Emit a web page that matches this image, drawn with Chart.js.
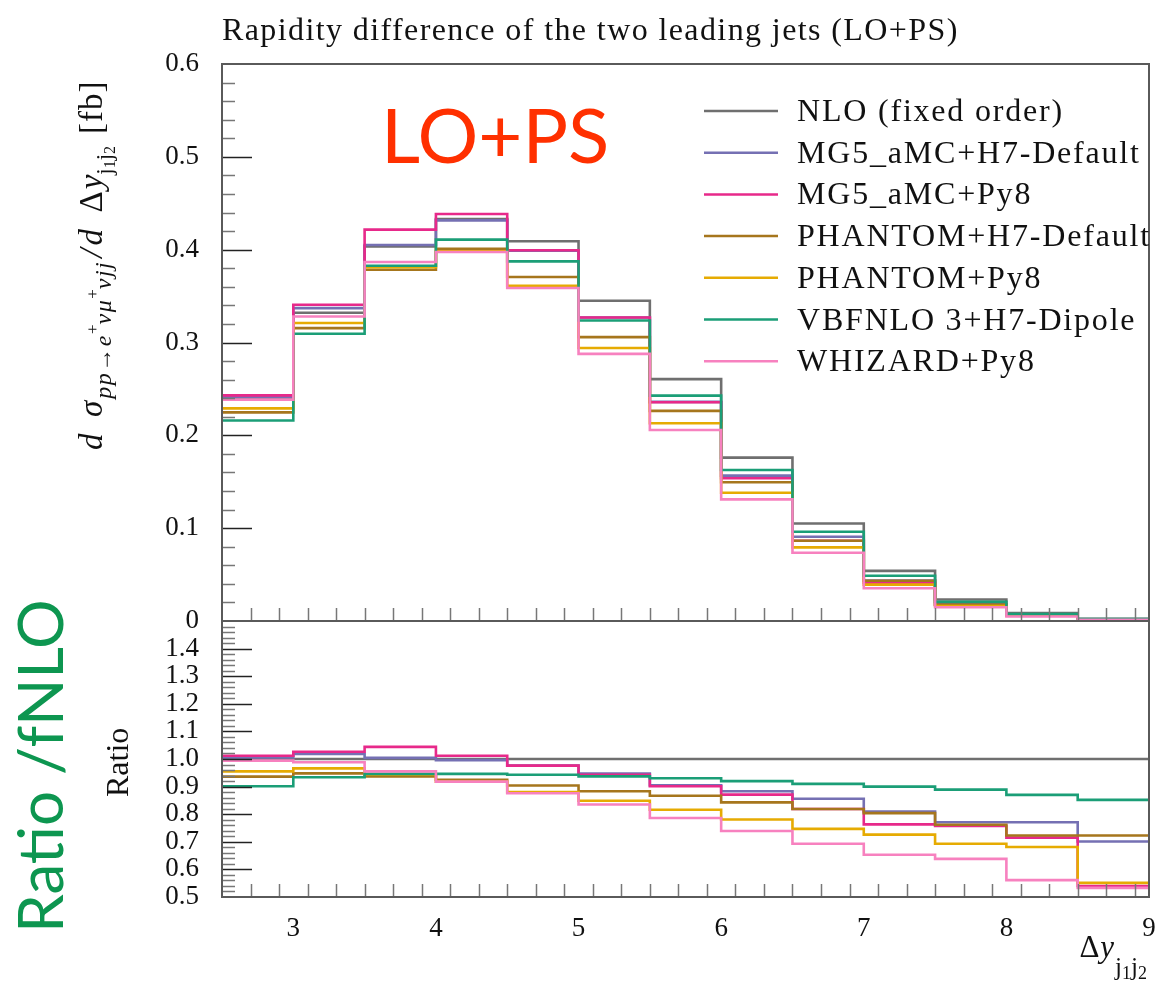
<!DOCTYPE html>
<html>
<head>
<meta charset="utf-8">
<title>Rapidity difference of the two leading jets (LO+PS)</title>
<script src="https://cdn.jsdelivr.net/npm/chart.js@4.4.1/dist/chart.umd.min.js"></script>
<style>
  html, body { margin: 0; padding: 0; background: #fff; }
  #wrap { position: relative; width: 1160px; height: 993px; }
  canvas { position: absolute; left: 0; top: 0; }
</style>
</head>
<body>
<div id="wrap">
  <canvas id="mainChart" width="1160" height="993"></canvas>
  <canvas id="ratioChart" width="1160" height="993"></canvas>
</div>
<script>
// bin edges of delta y(j1,j2)
const binEdges = [2.5, 3, 3.5, 4, 4.5, 5, 5.5, 6, 6.5, 7, 7.5, 8, 8.5, 9];

const seriesNames = [
    'NLO (fixed order)',
    'MG5_aMC+H7-Default',
    'MG5_aMC+Py8',
    'PHANTOM+H7-Default',
    'PHANTOM+Py8',
    'VBFNLO 3+H7-Dipole',
    'WHIZARD+Py8'
];
const seriesColors = ['#6f6f6f', '#7570b3', '#e7298a', '#a6761d', '#e6ab02', '#1b9e77', '#f781bf'];

// d sigma / d dy  [fb], one value per bin
const nloFixedOrder = [0.240, 0.332, 0.4035, 0.433, 0.409, 0.345, 0.2605, 0.176, 0.105, 0.054, 0.0232, 0.0085, 0.0025];
const mg5Herwig     = [0.2415, 0.337, 0.405, 0.4316, 0.399, 0.327, 0.236, 0.1566, 0.0907, 0.0437, 0.0179, 0.0066, 0.0018];
const mg5Pythia     = [0.243, 0.3406, 0.4216, 0.4385, 0.3993, 0.327, 0.2357, 0.1537, 0.0864, 0.0412, 0.0176, 0.0061, 0.0014];
const phantomHerwig = [0.2247, 0.3155, 0.3784, 0.401, 0.3705, 0.3058, 0.2263, 0.1494, 0.0864, 0.0434, 0.0177, 0.0061, 0.0018];
const phantomPythia = [0.229, 0.321, 0.381, 0.3982, 0.3612, 0.294, 0.213, 0.1382, 0.0793, 0.0392, 0.0161, 0.0058, 0.0014];
const vbfnloHerwig  = [0.216, 0.3094, 0.3827, 0.4108, 0.3874, 0.3237, 0.2428, 0.1627, 0.0961, 0.0487, 0.0206, 0.0074, 0.0021];
const whizardPythia = [0.2385, 0.328, 0.3867, 0.3975, 0.3587, 0.2878, 0.2058, 0.131, 0.0735, 0.0353, 0.0148, 0.0048, 0.0013];

// ratio to fixed-order NLO
const ratioNlo           = [1, 1, 1, 1, 1, 1, 1, 1, 1, 1, 1, 1, 1];
const ratioMg5Herwig     = [1.006, 1.018, 1.004, 0.996, 0.976, 0.947, 0.905, 0.883, 0.856, 0.81, 0.771, 0.771, 0.701];
const ratioMg5Pythia     = [1.012, 1.026, 1.044, 1.012, 0.976, 0.943, 0.901, 0.871, 0.819, 0.763, 0.757, 0.715, 0.54];
const ratioPhantomHerwig = [0.936, 0.948, 0.937, 0.925, 0.904, 0.883, 0.867, 0.843, 0.819, 0.804, 0.762, 0.723, 0.723];
const ratioPhantomPythia = [0.955, 0.966, 0.944, 0.918, 0.88, 0.849, 0.816, 0.781, 0.747, 0.726, 0.693, 0.681, 0.551];
const ratioVbfnloHerwig  = [0.901, 0.934, 0.946, 0.946, 0.943, 0.937, 0.93, 0.92, 0.91, 0.9, 0.889, 0.87, 0.852];
const ratioWhizardPythia = [0.994, 0.988, 0.955, 0.918, 0.876, 0.835, 0.786, 0.739, 0.693, 0.653, 0.638, 0.561, 0.533];

const xTickValues = [3, 4, 5, 6, 7, 8, 9];
const mainTickValues = [0, 0.1, 0.2, 0.3, 0.4, 0.5, 0.6];
const ratioTickValues = [0.5, 0.6, 0.7, 0.8, 0.9, 1.0, 1.1, 1.2, 1.3, 1.4];

const mainSeries = [nloFixedOrder, mg5Herwig, mg5Pythia, phantomHerwig, phantomPythia, vbfnloHerwig, whizardPythia];
const ratioSeries = [ratioNlo, ratioMg5Herwig, ratioMg5Pythia, ratioPhantomHerwig, ratioPhantomPythia, ratioVbfnloHerwig, ratioWhizardPythia];

const SERIF = '"Liberation Serif", "DejaVu Serif", serif';
const SANS = 'Lato, "Open Sans", sans-serif';

// points at the left bin edges plus the closing right edge
function histPoints(vals) {
    const pts = vals.map((v, i) => ({ x: binEdges[i], y: v }));
    pts.push({ x: binEdges[vals.length], y: vals[vals.length - 1] });
    return pts;
}

function makeDatasets(series) {
    return series.map((vals, i) => ({
        label: seriesNames[i],
        data: histPoints(vals),
        borderColor: seriesColors[i],
        borderWidth: 2.6,
        stepped: 'before',
        pointRadius: 0,
        fill: false,
        order: series.length - 1 - i
    }));
}

// draw a row of text pieces (font, offset) one after another
function drawRuns(ctx, runs, x, y) {
    let cx = x;
    runs.forEach(r => {
        ctx.font = r.font;
        ctx.letterSpacing = r.ls || '0px';
        ctx.fillText(r.t, cx, y + (r.dy || 0));
        cx += ctx.measureText(r.t).width + (r.gap || 0);
    });
    ctx.letterSpacing = '0px';
    return cx - x;
}

function fixedTicks(vals) {
    return scale => { scale.ticks = vals.map(v => ({ value: v })); };
}

// frame plus inward major/minor tick marks
const frameTicks = {
    id: 'frameTicks',
    afterDatasetsDraw(chart, args, o) {
        const { ctx, chartArea: a, scales: { x, y } } = chart;
        ctx.save();
        ctx.lineWidth = 1.5;
        const vert = (val, len, col) => {
            const px = Math.round(x.getPixelForValue(val)) + 0.5;
            ctx.strokeStyle = col;
            ctx.beginPath(); ctx.moveTo(px, a.bottom); ctx.lineTo(px, a.bottom - len); ctx.stroke();
        };
        const horiz = (val, len, col) => {
            const py = Math.round(y.getPixelForValue(val)) + 0.5;
            ctx.strokeStyle = col;
            ctx.beginPath(); ctx.moveTo(a.left, py); ctx.lineTo(a.left + len, py); ctx.stroke();
        };
        let n = Math.round((x.max - x.min) / 0.2);
        for (let k = 1; k < n; k++) {
            const v = x.min + k * 0.2;
            if (Math.abs(v - Math.round(v)) < 1e-6) vert(v, 28, '#333');
            else vert(v, 13, '#777');
        }
        n = Math.round((y.max - y.min) / o.yMinor);
        for (let k = 1; k < n; k++) {
            const v = y.min + k * o.yMinor;
            const r = v / o.yMajor;
            if (Math.abs(r - Math.round(r)) < 1e-6) horiz(v, 30, '#222');
            else horiz(v, 13, '#777');
        }
        ctx.strokeStyle = '#5a5a5a';
        ctx.lineWidth = 2;
        ctx.strokeRect(a.left, a.top, a.right - a.left, a.bottom - a.top);
        ctx.restore();
    }
};

// title, legend, labels of the upper panel
const mainText = {
    id: 'mainText',
    afterDraw(chart) {
        const ctx = chart.ctx;
        ctx.save();
        ctx.fillStyle = '#111';
        ctx.textBaseline = 'alphabetic';
        ctx.font = '32px ' + SERIF;
        ctx.letterSpacing = '1.4px';
        ctx.fillText('Rapidity difference of the two leading jets (LO+PS)', 222, 40);

        // legend
        ctx.letterSpacing = '1.8px';
        seriesNames.forEach((name, i) => {
            const ly = 111 + i * 41.7;
            ctx.strokeStyle = seriesColors[i];
            ctx.lineWidth = 2.5;
            ctx.beginPath(); ctx.moveTo(704, ly); ctx.lineTo(778, ly); ctx.stroke();
            ctx.fillStyle = '#111';
            ctx.font = '32px ' + SERIF;
            ctx.fillText(name, 797, ly + 10);
        });
        ctx.letterSpacing = '0px';

        ctx.fillStyle = '#ff3000';
        ctx.font = '76px ' + SANS;
        ctx.fillText('LO+PS', 381, 163);

        // y axis title, rotated
        ctx.save();
        ctx.translate(102, 450);
        ctx.rotate(-Math.PI / 2);
        ctx.fillStyle = '#111';
        const it = s => 'italic ' + s + 'px ' + SERIF;
        const up = s => s + 'px ' + SERIF;
        drawRuns(ctx, [
            { t: 'd  σ', font: it(33), gap: 2 },
            { t: 'pp→e', font: it(24), dy: 9, ls: '1.5px' },
            { t: '+', font: up(17), dy: -4 },
            { t: 'νμ', font: it(24), dy: 9, ls: '1.5px' },
            { t: '+', font: up(17), dy: -4 },
            { t: 'νjj', font: it(24), dy: 9, gap: 3, ls: '1.5px' },
            { t: '/', font: it(33), gap: 3 },
            { t: 'd  ', font: it(33) },
            { t: 'Δ', font: up(33), gap: 2 },
            { t: 'y', font: it(33) },
            { t: 'j', font: up(23), dy: 10 },
            { t: '1', font: up(16), dy: 13 },
            { t: 'j', font: up(23), dy: 10 },
            { t: '2', font: up(16), dy: 13, gap: 12 },
            { t: '[fb]', font: up(33), ls: '1px' }
        ], 0, 0);
        ctx.restore();
        ctx.restore();
    }
};

// labels of the ratio panel
const ratioText = {
    id: 'ratioText',
    afterDraw(chart) {
        const ctx = chart.ctx;
        ctx.save();
        ctx.fillStyle = '#111';
        ctx.save();
        ctx.translate(128, 797);
        ctx.rotate(-Math.PI / 2);
        ctx.font = '32px ' + SERIF;
        ctx.fillText('Ratio', 0, 0);
        ctx.restore();

        ctx.save();
        ctx.translate(63, 933);
        ctx.rotate(-Math.PI / 2);
        ctx.fillStyle = '#0d9650';
        ctx.font = '62px ' + SANS;
        ctx.fillText('Ratio /fNLO', 0, 0);
        ctx.restore();

        // x axis title, right aligned to the frame
        const runs = [
            { t: 'Δ', font: '31px ' + SERIF, gap: 1 },
            { t: 'y', font: 'italic 31px ' + SERIF, gap: 1 },
            { t: 'j', font: '25px ' + SERIF, dy: 18 },
            { t: '1', font: '18px ' + SERIF, dy: 22 },
            { t: 'j', font: '25px ' + SERIF, dy: 18 },
            { t: '2', font: '18px ' + SERIF, dy: 22 }
        ];
        let w = 0;
        runs.forEach(r => { ctx.font = r.font; w += ctx.measureText(r.t).width + (r.gap || 0); });
        drawRuns(ctx, runs, 1147 - w, 957);
        ctx.restore();
    }
};

const tickFont = { family: SERIF, size: 27 };

new Chart(document.getElementById('mainChart'), {
    type: 'line',
    data: { datasets: makeDatasets(mainSeries) },
    options: {
        responsive: false,
        animation: false,
        layout: { padding: { top: 64, right: 11, bottom: 993 - 621, left: 0 } },
        plugins: {
            legend: { display: false },
            tooltip: { enabled: false },
            frameTicks: { yMajor: 0.1, yMinor: 0.02 }
        },
        scales: {
            x: {
                type: 'linear', min: 2.5, max: 9,
                ticks: { display: false },
                grid: { display: false },
                border: { display: false },
                afterFit: s => { s.height = 0; s.paddingLeft = 0; s.paddingRight = 0; }
            },
            y: {
                min: 0, max: 0.6,
                afterBuildTicks: fixedTicks(mainTickValues),
                ticks: {
                    font: tickFont, color: '#111', padding: 15, autoSkip: false,
                    callback: v => v === 0 ? '0' : v.toFixed(1)
                },
                grid: { display: false },
                border: { display: false },
                afterFit: s => { s.width = 222; s.paddingTop = 0; s.paddingBottom = 0; }
            }
        }
    },
    plugins: [frameTicks, mainText]
});

new Chart(document.getElementById('ratioChart'), {
    type: 'line',
    data: { datasets: makeDatasets(ratioSeries) },
    options: {
        responsive: false,
        animation: false,
        layout: { padding: { top: 621, right: 11, bottom: 0, left: 0 } },
        plugins: {
            legend: { display: false },
            tooltip: { enabled: false },
            frameTicks: { yMajor: 0.1, yMinor: 0.02 }
        },
        scales: {
            x: {
                type: 'linear', min: 2.5, max: 9,
                afterBuildTicks: fixedTicks(xTickValues),
                ticks: { font: tickFont, color: '#111', padding: 8, autoSkip: false, maxRotation: 0 },
                grid: { display: false },
                border: { display: false },
                afterFit: s => { s.height = 993 - 897; s.paddingLeft = 0; s.paddingRight = 0; }
            },
            y: {
                min: 0.5, max: 1.5,
                afterBuildTicks: fixedTicks(ratioTickValues),
                ticks: {
                    font: tickFont, color: '#111', padding: 15, autoSkip: false,
                    callback: v => v.toFixed(1)
                },
                grid: { display: false },
                border: { display: false },
                afterFit: s => { s.width = 222; s.paddingTop = 0; s.paddingBottom = 0; }
            }
        }
    },
    plugins: [frameTicks, ratioText]
});
</script>
</body>
</html>
